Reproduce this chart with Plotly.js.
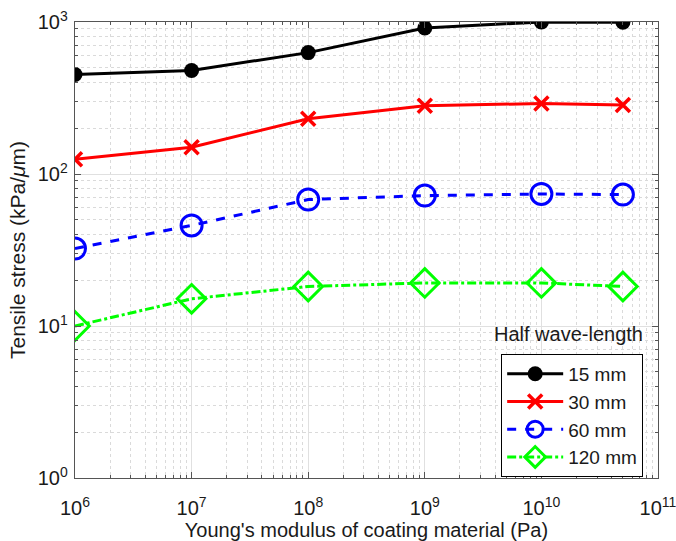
<!DOCTYPE html>
<html>
<head>
<meta charset="utf-8">
<script src="https://cdn.plot.ly/plotly-3.0.1.min.js"></script>
<style>html,body{margin:0;padding:0;background:#fff;}#chart{width:676px;height:541px;}</style>
</head>
<body>
<div id="chart"></div>
<script>
const modulus = [1e6, 1e7, 1e8, 1e9, 1e10, 5e10];
const stress15 = [451, 480, 629, 914, 1000, 997];
const stress30 = [125, 150, 231, 281, 291, 284];
const stress60 = [32.3, 45.9, 67.9, 72.1, 73.9, 73.2];
const stress120 = [10.0, 15.1, 18.2, 19.2, 19.2, 18.2];
const seriesNames = ['15 mm', '30 mm', '60 mm', '120 mm'];
const xTickVals = [1e6, 1e7, 1e8, 1e9, 1e10, 1e11];
const xTickText = ['10<sup>6</sup>', '10<sup>7</sup>', '10<sup>8</sup>', '10<sup>9</sup>', '10<sup>10</sup>', '10<sup>11</sup>'];
const yTickVals = [1, 10, 100, 1000];
const yTickText = ['10<sup>0</sup>', '10<sup>1</sup>', '10<sup>2</sup>', '10<sup>3</sup>'];

const traces = [
  {x: modulus, y: stress15, name: seriesNames[0], mode: 'lines+markers',
   line: {color: '#000000', width: 3, dash: 'solid'},
   marker: {symbol: 'circle', size: 15, color: '#000000'}},
  {x: modulus, y: stress30, name: seriesNames[1], mode: 'lines+markers',
   line: {color: '#ff0000', width: 3, dash: 'solid'},
   marker: {symbol: 'x-thin', size: 14, color: '#ff0000', line: {color: '#ff0000', width: 3.5}}},
  {x: modulus, y: stress60, name: seriesNames[2], mode: 'lines+markers',
   line: {color: '#0000ff', width: 3, dash: 'dash'},
   marker: {symbol: 'circle-open', size: 21, color: '#0000ff', line: {color: '#0000ff', width: 3}}},
  {x: modulus, y: stress120, name: seriesNames[3], mode: 'lines+markers',
   line: {color: '#00ff00', width: 3, dash: 'dashdot'},
   marker: {symbol: 'diamond-open', size: 22, color: '#00ff00', line: {color: '#00ff00', width: 3}}}
];

const axisCommon = {
  type: 'log',
  tickmode: 'array',
  showline: true, linecolor: '#555555', linewidth: 1.2, mirror: 'allticks',
  ticks: 'inside', ticklen: 6, tickcolor: '#555555', tickwidth: 1,
  showgrid: true, gridcolor: '#e0e0e0', gridwidth: 1,
  zeroline: false,
  ticklabeloverflow: 'allow',
  tickfont: {family: 'Liberation Sans, Arial, sans-serif', size: 20, color: '#1a1a1a'},
  minor: {dtick: 'D1', showgrid: true, gridcolor: '#dadada', griddash: 'dot', gridwidth: 1,
          ticks: 'inside', ticklen: 3, tickcolor: '#555555'}
};

const layout = {
  width: 676, height: 541,
  margin: {l: 75, r: 18, t: 22, b: 63},
  paper_bgcolor: '#ffffff', plot_bgcolor: '#ffffff',
  font: {family: 'Liberation Sans, Arial, sans-serif', size: 19, color: '#1a1a1a'},
  xaxis: Object.assign({}, axisCommon, {
    range: [6, 11], tickvals: xTickVals, ticktext: xTickText, ticklabelstandoff: 12,
    title: {text: "Young's modulus of coating material (Pa)", font: {size: 20, color: '#1a1a1a'}, standoff: 15}
  }),
  yaxis: Object.assign({}, axisCommon, {
    range: [0, 3], tickvals: yTickVals, ticktext: yTickText, ticklabelstandoff: 2,
    title: {text: 'Tensile stress (kPa/<i>μ</i>m)', font: {size: 21, color: '#1a1a1a'}, standoff: 6}
  }),
  showlegend: true,
  legend: {x: 0.731, y: 0.272, xanchor: 'left', yanchor: 'top',
           bgcolor: '#ffffff', bordercolor: '#000000', borderwidth: 1,
           font: {size: 19, color: '#1a1a1a'}, itemwidth: 56, tracegroupgap: 0},
  annotations: [{text: 'Half wave-length', xref: 'paper', yref: 'paper', x: 0.977, y: 0.316,
                 xanchor: 'right', yanchor: 'middle', showarrow: false,
                 font: {size: 20, color: '#1a1a1a'}}]
};

Plotly.newPlot('chart', traces, layout, {displayModeBar: false, staticPlot: true});
</script>
</body>
</html>
